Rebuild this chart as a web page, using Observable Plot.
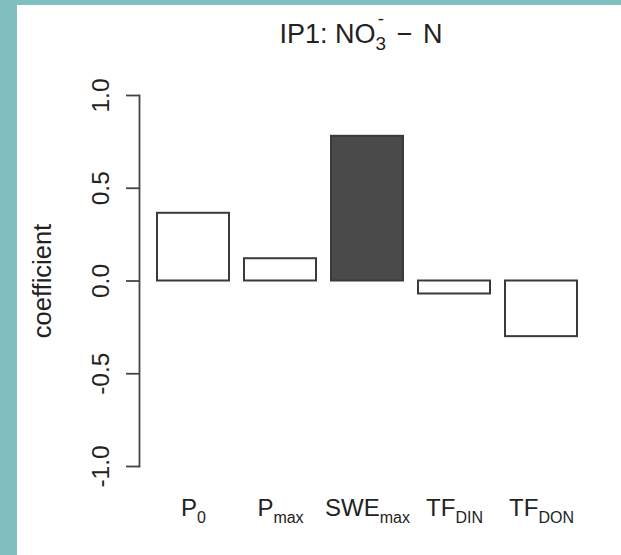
<!DOCTYPE html>
<html>
<head>
<meta charset="utf-8">
<script src="https://cdn.jsdelivr.net/npm/d3@7"></script>
<script src="https://cdn.jsdelivr.net/npm/@observablehq/plot@0.6"></script>
<style>
  html, body { margin: 0; padding: 0; }
  body { width: 621px; height: 555px; background: #80bfc0; position: relative; overflow: hidden;
         font-family: "Liberation Sans", Arial, Helvetica, sans-serif; color: #222; }
  #panel { position: absolute; left: 17px; top: 5px; width: 604px; height: 550px; background: #ffffff; }
  #title { position: absolute; left: 133px; width: 456px; top: 21px; text-align: center;
           font-size: 27px; line-height: 1; white-space: nowrap; }
  .stack { position: relative; display: inline-block; }
  .stack .sub { font-size: 0.7em; position: relative; top: 0.36em; }
  .stack .sup { font-size: 0.7em; position: absolute; left: 0; width: 100%; text-align: center; top: -0.6em; }
  .op { padding: 0 3px; }
  #chart { position: absolute; left: 17px; top: 60px; }
</style>
</head>
<body>
<div id="panel"></div>
<div id="title">IP1: NO<span class="stack"><span class="sub">3</span><span class="sup">-</span></span> <span class="op">−</span> N</div>
<div id="chart"></div>
<script>
// ---- data ----
const categories = ["P_0", "P_max", "SWE_max", "TF_DIN", "TF_DON"];
const coefficients = [0.365, 0.12, 0.78, -0.07, -0.30];
const significant = [false, false, true, false, false];
const yTicks = [-1, -0.5, 0, 0.5, 1];
const yTickLabels = ["-1.0", "-0.5", "0.0", "0.5", "1.0"];
const yLabel = "coefficient";

const data = categories.map((c, i) => ({cat: c, value: coefficients[i], sig: significant[i]}));

const ink = "#3a3a3a";
const chart = Plot.plot({
  width: 604,
  height: 495,
  marginLeft: 122,
  marginRight: 26,
  marginTop: 35,
  marginBottom: 89,
  style: {background: "transparent", fontFamily: '"Liberation Sans", Arial, Helvetica, sans-serif', fontSize: "24px", color: ink, overflow: "visible"},
  x: {domain: categories, paddingInner: 0.1667, paddingOuter: 0.19},
  y: {domain: [-1, 1]},
  marks: [
    Plot.barY(data, {x: "cat", y1: 0, y2: "value", fill: d => d.sig ? "#4a4a4a" : "#ffffff", stroke: ink, strokeWidth: 2}),
    Plot.frame({anchor: "left", stroke: "#444", strokeWidth: 1.8}),
    Plot.axisY({ticks: yTicks, tickSize: 13, tickFormat: () => "", label: null, stroke: "#444", strokeWidth: 1.8}),
    Plot.text(yTicks, {y: d => d, text: (d, i) => yTickLabels[i], frameAnchor: "left", rotate: -90, dx: -31,
      textAnchor: "middle", lineAnchor: "bottom", fontSize: 24.5, fill: "#222"}),
    Plot.text([yLabel], {text: d => d, frameAnchor: "left", rotate: -90, dx: -89,
      textAnchor: "middle", lineAnchor: "bottom", fontSize: 25.5, fill: "#222"}),
    Plot.axisX({tickSize: 0, tickPadding: 32, label: null, fontSize: 24, fill: "#222"})
  ]
});
document.getElementById("chart").appendChild(chart);

// render subscripts in the category labels (e.g. "SWE_max" -> SWE with subscript max)
chart.querySelectorAll('g[aria-label="x-axis tick label"] text').forEach(t => {
  const s = t.textContent;
  const k = s.indexOf("_");
  if (k < 0) return;
  t.textContent = "";
  const ns = "http://www.w3.org/2000/svg";
  const a = document.createElementNS(ns, "tspan");
  a.textContent = s.slice(0, k);
  const b = document.createElementNS(ns, "tspan");
  b.textContent = s.slice(k + 1);
  b.setAttribute("font-size", "16");
  b.setAttribute("dy", "7");
  t.appendChild(a);
  t.appendChild(b);
});
</script>
</body>
</html>
